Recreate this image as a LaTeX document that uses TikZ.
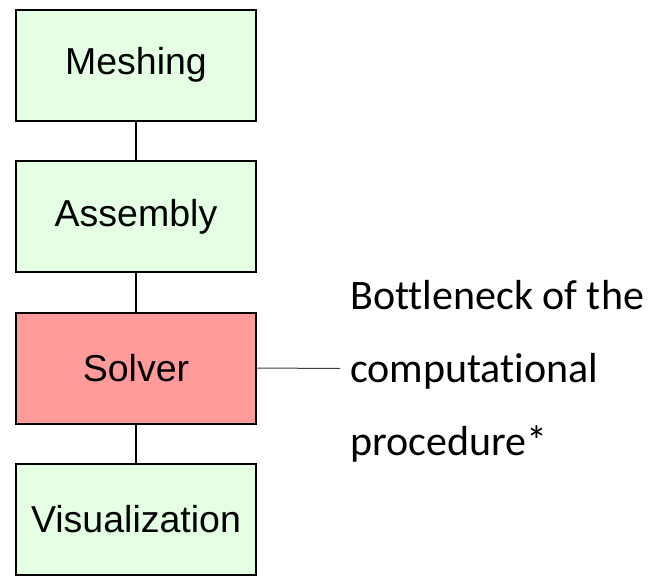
\documentclass[tikz,border=0pt]{standalone}
\usepackage{fontspec}
\setmainfont{Liberation Sans}
\newfontfamily\notefont[Ligatures=NoCommon]{Carlito}
\usetikzlibrary{positioning}
\definecolor{StageGreen}{HTML}{E5FFE5}
\definecolor{StageRed}{HTML}{FF9B9B}
\definecolor{LinkGray}{HTML}{404040}

\tikzset{
  stagebox/.style={draw=black, line width=2pt, minimum width=240pt,
                   minimum height=111pt, inner sep=0pt,
                   font=\fontsize{37.5}{40}\selectfont},
  link/.style={draw=black, line width=1.6pt},
  notelink/.style={draw=LinkGray, line width=1pt}
}

\begin{document}
\begin{tikzpicture}[x=1pt, y=-1pt]
  \useasboundingbox (0,0) rectangle (654,576);
  % the four stages, top to bottom
  \foreach \i/\name/\title/\col in {
    0/mesh/Meshing/StageGreen,
    1/asm/Assembly/StageGreen,
    2/solver/Solver/StageRed,
    3/vis/Visualization/StageGreen}{
    \node[stagebox, fill=\col] (\name) at (136, {65 + \i*151.5}) {\title};
  }
  \foreach \a/\b in {mesh/asm, asm/solver, solver/vis}
    \draw[link] (\a.south) -- (\b.north);

  % remark on the solver
  \coordinate (tip) at (340, 368.5);
  \node[anchor=west, inner sep=0pt, align=left,
        font=\notefont\fontsize{42}{73}\selectfont] (note) at (350, 371.5)
    {Bottleneck of the\\computational\\procedure*};
  \draw[notelink] (solver.east) -- (tip);
\end{tikzpicture}
\end{document}
